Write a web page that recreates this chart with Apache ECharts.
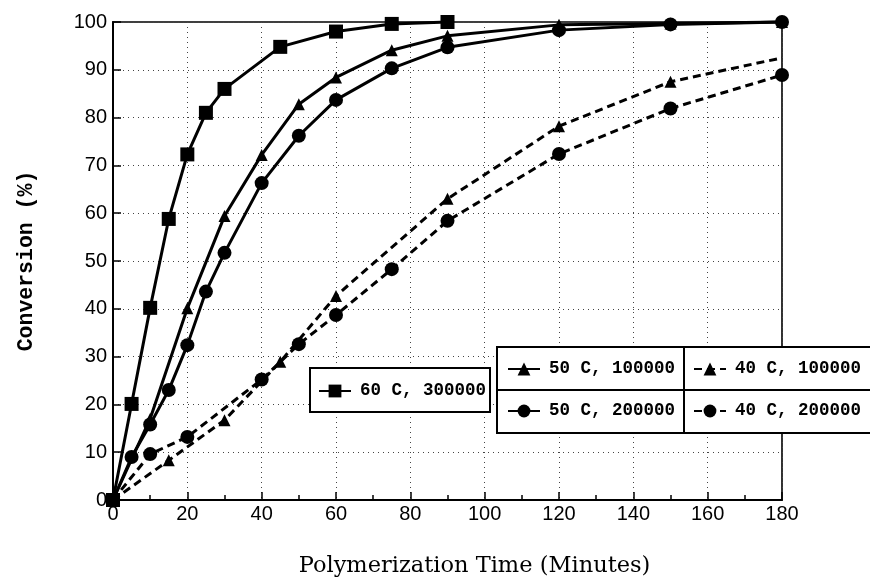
<!DOCTYPE html>
<html>
<head>
<meta charset="utf-8">
<script src="https://cdn.jsdelivr.net/npm/echarts@6/dist/echarts.min.js"></script>
<style>
html,body{margin:0;padding:0;background:#fff;}
#chart{width:870px;height:586px;}
</style>
</head>
<body>
<div id="chart"></div>
<script>
// ---- data ----
const names = ['60 C, 300000', '50 C, 100000', '50 C, 200000', '40 C, 100000', '40 C, 200000'];
const t60  = [0, 5, 10, 15, 20, 25, 30, 45, 60, 75, 90];
const c60  = [0, 20.1, 40.2, 58.8, 72.3, 81.0, 86.0, 94.8, 98.0, 99.6, 100];
const t50a = [0, 10, 20, 30, 40, 50, 60, 75, 90, 120, 150, 180];
const c50a = [0, 17.0, 40.1, 59.4, 72.2, 82.8, 88.4, 94.1, 97.1, 99.4, 99.7, 100];
const t50b = [0, 5, 10, 15, 20, 25, 30, 40, 50, 60, 75, 90, 120, 150, 180];
const c50b = [0, 9.0, 15.8, 23.0, 32.4, 43.6, 51.7, 66.3, 76.2, 83.7, 90.3, 94.7, 98.3, 99.5, 100];
const t40a = [0, 15, 30, 45, 60, 90, 120, 150, 180];
const c40a = [0, 8.3, 16.7, 28.9, 42.7, 63.0, 78.2, 87.5, 92.5];
const t40b = [0, 10, 20, 40, 50, 60, 75, 90, 120, 150, 180];
const c40b = [0, 9.6, 13.2, 25.2, 32.6, 38.7, 48.3, 58.4, 72.4, 81.9, 88.9];
const xTicks = [0, 20, 40, 60, 80, 100, 120, 140, 160, 180];
const yTicks = [0, 10, 20, 30, 40, 50, 60, 70, 80, 90, 100];

function pairs(xs, ys, hideLast) {
  return xs.map((x, i) => {
    const v = [x, ys[i]];
    if (hideLast && i === xs.length - 1) return { value: v, symbol: 'none' };
    return v;
  });
}

const chart = echarts.init(document.getElementById('chart'), null, { renderer: 'canvas' });

const solid = { color: '#000', width: 3, type: 'solid' };
const dashed = { color: '#000', width: 3, type: [8, 5] };

function mkSeries(name, data, symbol, size, ls) {
  return {
    name: name, type: 'line', data: data, symbol: symbol, symbolSize: size,
    lineStyle: ls, itemStyle: { color: '#000' }, clip: false, z: 5,
    emphasis: { disabled: true }
  };
}

const legendText = {
  fontFamily: 'Liberation Mono', fontWeight: 'bold', fontSize: 17.5, color: '#000',
  padding: [0, 0, 0, 4]
};
function mkLegend(name, left, top) {
  return {
    data: [name], left: left, top: top, orient: 'horizontal', padding: 0,
    itemWidth: 32, itemHeight: 16, textStyle: legendText, selectedMode: false, z: 200
  };
}

const option = {
  animation: false,
  backgroundColor: '#fff',
  grid: { left: 113, right: 88, top: 22, bottom: 86, show: true, borderColor: '#000', borderWidth: 1.6, backgroundColor: 'transparent' },
  xAxis: {
    type: 'value', min: xTicks[0], max: xTicks[xTicks.length - 1], interval: 20,
    name: 'Polymerization Time (Minutes)', nameLocation: 'middle', nameGap: 55,
    nameTextStyle: { fontFamily: 'DejaVu Serif', fontSize: 22.5, color: '#000', padding: [0, 0, 0, 54] },
    axisLine: { show: true, lineStyle: { color: '#000', width: 2 } },
    axisTick: { show: true, inside: true, length: 8, lineStyle: { color: '#000', width: 1.5 } },
    minorTick: { show: true, splitNumber: 2, length: 5, lineStyle: { color: '#000', width: 1.5 } },
    axisLabel: { fontFamily: 'Liberation Sans', fontSize: 20, color: '#000', margin: 4 },
    splitLine: { show: true, lineStyle: { color: '#444', width: 1, type: [1, 4] } }
  },
  yAxis: {
    type: 'value', min: yTicks[0], max: yTicks[yTicks.length - 1], interval: 10,
    name: 'Conversion (%)', nameLocation: 'middle', nameGap: 75,
    nameTextStyle: { fontFamily: 'Liberation Mono', fontWeight: 'bold', fontSize: 21.5, color: '#000' },
    axisLine: { show: true, lineStyle: { color: '#000', width: 2 } },
    axisTick: { show: true, inside: true, length: 8, lineStyle: { color: '#000', width: 1.5 } },
    axisLabel: { fontFamily: 'Liberation Sans', fontSize: 20, color: '#000', margin: 6 },
    splitLine: { show: true, lineStyle: { color: '#444', width: 1, type: [1, 4] } }
  },
  legend: [
    mkLegend(names[0], 318, 382),
    mkLegend(names[1], 507, 360),
    mkLegend(names[2], 507, 402),
    mkLegend(names[3], 693, 360),
    mkLegend(names[4], 693, 402)
  ],
  graphic: [
    { type: 'rect', z: 100, shape: { x: 310, y: 368, width: 180, height: 44 }, style: { fill: '#fff', stroke: '#000', lineWidth: 2 } },
    { type: 'rect', z: 100, shape: { x: 497, y: 347, width: 380, height: 86 }, style: { fill: '#fff', stroke: '#000', lineWidth: 2 } },
    { type: 'line', z: 101, shape: { x1: 684, y1: 347, x2: 684, y2: 433 }, style: { stroke: '#000', lineWidth: 2 } },
    { type: 'line', z: 101, shape: { x1: 497, y1: 390, x2: 877, y2: 390 }, style: { stroke: '#000', lineWidth: 2 } }
  ],
  series: [
    mkSeries(names[4], pairs(t40b, c40b), 'circle', 14, dashed),
    mkSeries(names[3], pairs(t40a, c40a, true), 'triangle', 12, dashed),
    mkSeries(names[2], pairs(t50b, c50b), 'circle', 14, solid),
    mkSeries(names[1], pairs(t50a, c50a), 'triangle', 12, solid),
    mkSeries(names[0], pairs(t60, c60), 'rect', 14, solid)
  ]
};
chart.setOption(option);
</script>
</body>
</html>
